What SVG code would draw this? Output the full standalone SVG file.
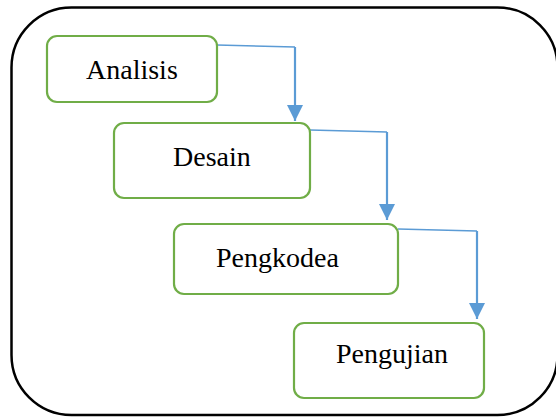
<svg xmlns="http://www.w3.org/2000/svg" width="556" height="417" viewBox="0 0 556 417">
  <style>
    .frame { fill: none; stroke: #000; stroke-width: 2.5; }
    .box { fill: #fff; stroke: #70AD47; stroke-width: 2.2; }
    .label { font-family: "Liberation Serif", "Times New Roman", serif; font-size: 28px; fill: #000; }
    .flow { fill: none; stroke: #5B9BD5; stroke-width: 1.5; }
    .drop { fill: none; stroke: #5B9BD5; stroke-width: 2.2; }
  </style>
  <defs>
    <marker id="arrow" markerUnits="userSpaceOnUse" markerWidth="18" markerHeight="18" refX="16" refY="8" orient="auto">
      <path d="M0,0 L16,8 L0,16 Z" fill="#5B9BD5"/>
    </marker>
  </defs>
  <rect width="556" height="417" fill="#fff"/>
  <rect class="frame" x="11.5" y="7.5" width="546" height="407.5" rx="60" ry="60"/>

  <g id="connectors">
    <path class="flow" d="M217,45 L295,47"/>
    <path class="drop" d="M295,47 L295,121" marker-end="url(#arrow)"/>
    <path class="flow" d="M310,130 L387,132"/>
    <path class="drop" d="M387,132 L387,220" marker-end="url(#arrow)"/>
    <path class="flow" d="M398,229 L477,231"/>
    <path class="drop" d="M477,231 L477,319" marker-end="url(#arrow)"/>
  </g>

  <g id="analisis">
    <rect class="box" x="47" y="36" width="170" height="66" rx="10"/>
    <text class="label" x="86" y="79">Analisis</text>
  </g>
  <g id="desain">
    <rect class="box" x="114" y="123" width="196" height="75" rx="10"/>
    <text class="label" x="173" y="166">Desain</text>
  </g>
  <g id="pengkodea">
    <rect class="box" x="174" y="224" width="224" height="70" rx="10"/>
    <text class="label" x="216" y="267">Pengkodea</text>
  </g>
  <g id="pengujian">
    <rect class="box" x="294" y="323" width="190" height="75" rx="10"/>
    <text class="label" x="336" y="363">Pengujian</text>
  </g>
</svg>
